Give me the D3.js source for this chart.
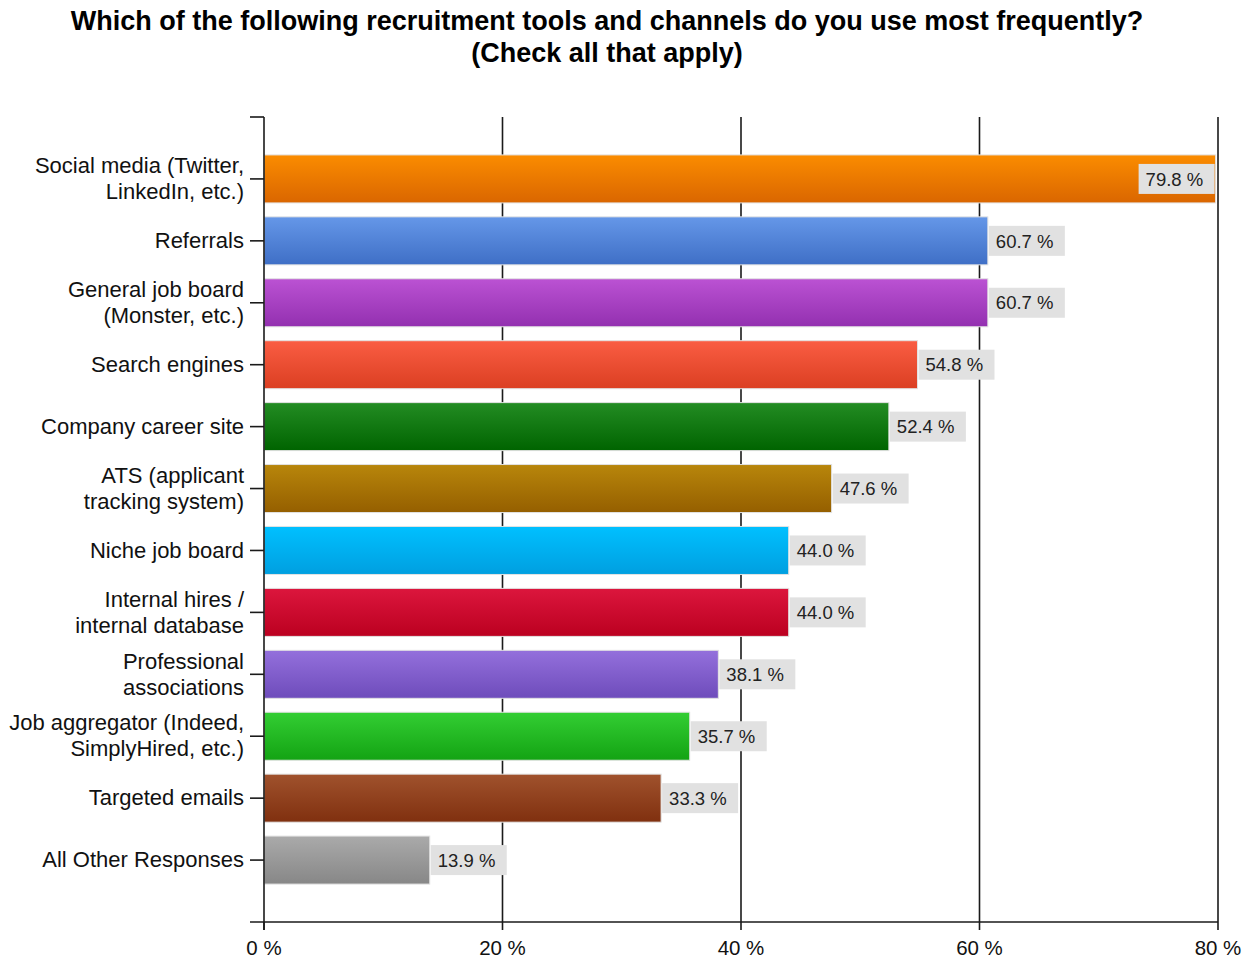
<!DOCTYPE html>
<html>
<head>
<meta charset="utf-8">
<script src="https://cdn.jsdelivr.net/npm/d3@7"></script>
<style>
  html, body { margin: 0; padding: 0; background: #fff; }
  svg { display: block; font-family: "Liberation Sans", Arial, sans-serif; }
</style>
</head>
<body>
<svg id="chart" width="1253" height="960"></svg>
<script>
// Survey responses: share of respondents using each recruitment channel
const categories = [
  ["Social media (Twitter,", "LinkedIn, etc.)"],
  ["Referrals"],
  ["General job board", "(Monster, etc.)"],
  ["Search engines"],
  ["Company career site"],
  ["ATS (applicant", "tracking system)"],
  ["Niche job board"],
  ["Internal hires /", "internal database"],
  ["Professional", "associations"],
  ["Job aggregator (Indeed,", "SimplyHired, etc.)"],
  ["Targeted emails"],
  ["All Other Responses"]
];
const values = [79.8, 60.7, 60.7, 54.8, 52.4, 47.6, 44.0, 44.0, 38.1, 35.7, 33.3, 13.9];
// top / bottom colours of each bar's vertical gradient
const colorsTop    = ["#fb8c00", "#6597e8", "#bb52d3", "#fa5d43", "#238c23", "#b8860b", "#00c0ff", "#dc163d", "#9470dc", "#33ce33", "#a0522d", "#aaaaaa"];
const colorsBottom = ["#da6600", "#3f6fc6", "#9330b0", "#db3f22", "#006400", "#955f00", "#009fe0", "#bb0020", "#6e4cbb", "#13a313", "#80300f", "#878787"];
const xTicks = [0, 20, 40, 60, 80];
const titleLines = [
  "Which of the following recruitment tools and channels do you use most frequently?",
  "(Check all that apply)"
];

const svg = d3.select("#chart");
const plotLeft = 264, plotRight = 1218, plotTop = 117, plotBottom = 922;
const ink = "#1a1a1a";

const x = d3.scaleLinear().domain([0, 80]).range([plotLeft, plotRight]);
const y = d3.scalePoint().domain(d3.range(categories.length)).range([plotTop, plotBottom]).padding(1);
const barH = 48;

// title
svg.append("g").selectAll("text").data(titleLines).join("text")
  .attr("x", 607).attr("y", (d, i) => 30 + i * 32)
  .attr("text-anchor", "middle")
  .attr("font-weight", "bold").attr("font-size", 27).attr("fill", "#000")
  .text(d => d);

// gradients
const defs = svg.append("defs");
values.forEach((v, i) => {
  const g = defs.append("linearGradient").attr("id", "grad" + i)
    .attr("x1", 0).attr("y1", 0).attr("x2", 0).attr("y2", 1);
  g.append("stop").attr("offset", "0%").attr("stop-color", colorsTop[i]);
  g.append("stop").attr("offset", "100%").attr("stop-color", colorsBottom[i]);
});

// vertical grid lines
svg.append("g").selectAll("line").data(xTicks.slice(1)).join("line")
  .attr("x1", d => x(d)).attr("x2", d => x(d))
  .attr("y1", plotTop).attr("y2", plotBottom)
  .attr("stroke", ink).attr("stroke-width", 1.6);

// bars
svg.append("g").selectAll("rect").data(values).join("rect")
  .attr("x", x(0))
  .attr("y", (d, i) => y(i) - barH / 2)
  .attr("width", d => x(d) - x(0))
  .attr("height", barH)
  .attr("fill", (d, i) => `url(#grad${i})`)
  .attr("stroke", "#e2e2e2").attr("stroke-width", 1);

// value labels in grey boxes
const boxW = 76, boxH = 30;
const lab = svg.append("g").selectAll("g").data(values).join("g")
  .attr("transform", (d, i) => {
    const end = x(d);
    const bx = end + boxW > plotRight ? end - boxW - 1 : end + 1;
    return `translate(${bx},${y(i) - boxH / 2})`;
  });
lab.append("rect").attr("width", boxW).attr("height", boxH).attr("fill", "#e1e1e1");
lab.append("text").attr("x", 7).attr("y", boxH / 2).attr("dy", "0.36em")
  .attr("font-size", 18.5).attr("fill", "#222")
  .text(d => d.toFixed(1) + " %");

// left axis
svg.append("line").attr("x1", plotLeft).attr("x2", plotLeft).attr("y1", plotTop).attr("y2", plotBottom + 8)
  .attr("stroke", ink).attr("stroke-width", 1.6);
svg.append("line").attr("x1", plotLeft - 14).attr("x2", plotLeft).attr("y1", plotTop).attr("y2", plotTop)
  .attr("stroke", ink).attr("stroke-width", 1.6);
svg.append("g").selectAll("line").data(values).join("line")
  .attr("x1", plotLeft - 14).attr("x2", plotLeft)
  .attr("y1", (d, i) => y(i)).attr("y2", (d, i) => y(i))
  .attr("stroke", ink).attr("stroke-width", 1.6);

// category labels
const cat = svg.append("g").selectAll("text").data(categories).join("text")
  .attr("x", 244)
  .attr("text-anchor", "end")
  .attr("font-size", 22).attr("fill", "#111");
cat.each(function(lines, i) {
  const t = d3.select(this);
  lines.forEach((ln, j) => {
    t.append("tspan").attr("x", 244)
      .attr("y", y(i) + (j - (lines.length - 1) / 2) * 26)
      .attr("dy", "0.33em")
      .text(ln);
  });
});

// bottom axis
svg.append("line").attr("x1", plotLeft - 14).attr("x2", plotRight).attr("y1", plotBottom).attr("y2", plotBottom)
  .attr("stroke", ink).attr("stroke-width", 1.6);
svg.append("g").selectAll("line").data(xTicks).join("line")
  .attr("x1", d => x(d)).attr("x2", d => x(d))
  .attr("y1", plotBottom).attr("y2", plotBottom + 8)
  .attr("stroke", ink).attr("stroke-width", 1.6);
svg.append("g").selectAll("text").data(xTicks).join("text")
  .attr("x", d => x(d)).attr("y", 955)
  .attr("text-anchor", "middle")
  .attr("font-size", 20.5).attr("fill", "#111")
  .text(d => d + " %");
</script>
</body>
</html>
